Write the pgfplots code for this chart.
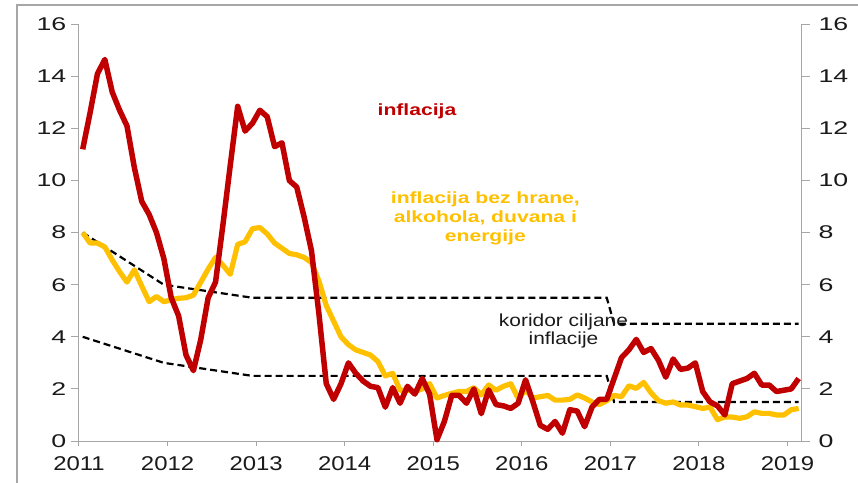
\documentclass[border=0pt]{standalone}
\usepackage{fontspec}
\setmainfont{Liberation Sans}
\newfontfamily\yfam{Liberation Sans}[FakeStretch=1.45]
\newfontfamily\xfam{Liberation Sans}[FakeStretch=1.2]
\newfontfamily\lblfam{Liberation Sans}[FakeStretch=1.3]
\newfontfamily\korfam{Liberation Sans}[FakeStretch=1.2]
\usepackage{pgfplots}
\usepackage{pgfplotstable}
\pgfplotsset{compat=1.18}
\definecolor{infred}{HTML}{C00000}
\definecolor{infyel}{HTML}{FFC000}
\definecolor{axgray}{HTML}{A6A6A6}
\definecolor{txt}{HTML}{1A1A1A}

\pgfplotstableread{
i red core
0 11.2 8.0
1 12.6 7.6
2 14.1 7.6
3 14.65 7.45
4 13.4 6.95
5 12.7 6.5
6 12.1 6.1
7 10.5 6.57
8 9.2 5.95
9 8.7 5.35
10 8.0 5.55
11 7.0 5.35
12 5.5 5.42
13 4.8 5.48
14 3.3 5.5
15 2.7 5.6
16 3.9 6.1
17 5.5 6.6
18 6.1 7.05
19 8.3 6.75
20 10.6 6.4
21 12.85 7.55
22 11.9 7.65
23 12.2 8.15
24 12.7 8.2
25 12.45 7.95
26 11.3 7.6
27 11.45 7.4
28 10.0 7.2
29 9.75 7.15
30 8.6 7.05
31 7.3 6.85
32 4.9 6.15
33 2.2 5.2
34 1.6 4.6
35 2.2 4.0
36 3.0 3.7
37 2.6 3.5
38 2.3 3.4
39 2.1 3.3
40 2.05 3.05
41 1.3 2.5
42 2.05 2.6
43 1.45 1.95
44 2.1 1.95
45 1.8 1.9
46 2.4 2.0
47 1.8 2.2
48 0.05 1.65
49 0.75 1.75
50 1.75 1.83
51 1.75 1.9
52 1.45 1.9
53 2.0 2.05
54 1.05 1.77
55 1.96 2.15
56 1.4 1.95
57 1.35 2.1
58 1.25 2.2
59 1.45 1.64
60 2.35 1.95
61 1.5 1.65
62 0.6 1.7
63 0.45 1.75
64 0.75 1.57
65 0.3 1.57
66 1.2 1.6
67 1.15 1.77
68 0.55 1.65
69 1.3 1.5
70 1.6 1.4
71 1.6 1.55
72 2.4 1.75
73 3.2 1.7
74 3.5 2.12
75 3.9 2.02
76 3.4 2.25
77 3.55 1.85
78 3.1 1.55
79 2.45 1.45
80 3.15 1.5
81 2.75 1.38
82 2.8 1.38
83 3.0 1.32
84 1.9 1.25
85 1.5 1.3
86 1.35 0.82
87 1.0 0.92
88 2.2 0.92
89 2.3 0.87
90 2.4 0.93
91 2.6 1.12
92 2.15 1.06
93 2.15 1.06
94 1.9 1.0
95 1.95 1.0
96 2.0 1.2
97 2.4 1.25
}\infl

\pgfplotstableread{
x up lo
2011.0417 8.0 4.0
2011.9583 6.0 3.0
2012.9583 5.5 2.5
2016.9583 5.5 2.5
2017.0417 4.5 1.5
2019.125 4.5 1.5
}\band

\begin{document}
\begin{tikzpicture}
\useasboundingbox (-79bp,-42bp) rectangle (779bp,441bp);
\draw[axgray, line width=1.3bp] (-62bp,-45bp) -- (-62bp,436bp) -- (785bp,436bp);
\begin{axis}[
  scale only axis, width=722.75bp, height=416.7bp,
  xmin=2011, xmax=2019.16, ymin=0, ymax=16,
  axis x line*=bottom, axis y line*=left,
  axis line style={axgray, line width=1bp},
  tick align=outside,
  xtick={2011,...,2019}, ytick={0,2,...,16},
  xtick style={axgray, line width=1bp, /pgfplots/major tick length=5bp},
  ytick style={axgray, line width=1bp, /pgfplots/major tick length=8bp},
  /pgf/number format/assume math mode=true,
  xticklabel style={font=\xfam\fontsize{20}{22}\selectfont, text=txt, yshift=-8bp, /pgf/number format/1000 sep={}},
  yticklabel style={font=\yfam\fontsize{18.5}{20}\selectfont, text=txt, xshift=-5bp},
  clip=false,
]
\addplot[black, line width=2.2bp, dash pattern=on 7bp off 4bp] table[x=x, y=up] {\band};
\addplot[black, line width=2.2bp, dash pattern=on 7bp off 4bp] table[x=x, y=lo] {\band};
\addplot[infyel, line width=5.2bp, line join=round] table[x expr=2011+(\thisrow{i}+0.5)/12, y=core] {\infl};
\addplot[infred, line width=5.5bp, line join=round] table[x expr=2011+(\thisrow{i}+0.5)/12, y=red] {\infl};
\node[infred, font=\lblfam\bfseries\fontsize{16.3}{19}\selectfont] at (axis cs:2014.816,12.67) {inflacija};
\node[infyel, align=center, font=\lblfam\bfseries\fontsize{16.3}{19}\selectfont] at (axis cs:2015.588,8.56) {inflacija bez hrane,\\alkohola, duvana i\\energije};
\node[txt, align=center, font=\korfam\fontsize{17.5}{18.5}\selectfont] at (axis cs:2016.47,4.22) {koridor ciljane\\inflacije};
\end{axis}
\begin{axis}[
  scale only axis, width=722.75bp, height=416.7bp,
  xmin=2011, xmax=2019.16, ymin=0, ymax=16,
  axis x line=none, axis y line*=right,
  axis line style={axgray, line width=1bp},
  tick align=outside,
  ytick={0,2,...,16},
  ytick style={axgray, line width=1bp, /pgfplots/major tick length=8bp},
  /pgf/number format/assume math mode=true,
  yticklabel style={font=\yfam\fontsize{18.5}{20}\selectfont, text=txt, xshift=9bp},
]
\addplot[draw=none] coordinates {(2012,1)};
\end{axis}
\end{tikzpicture}
\end{document}
